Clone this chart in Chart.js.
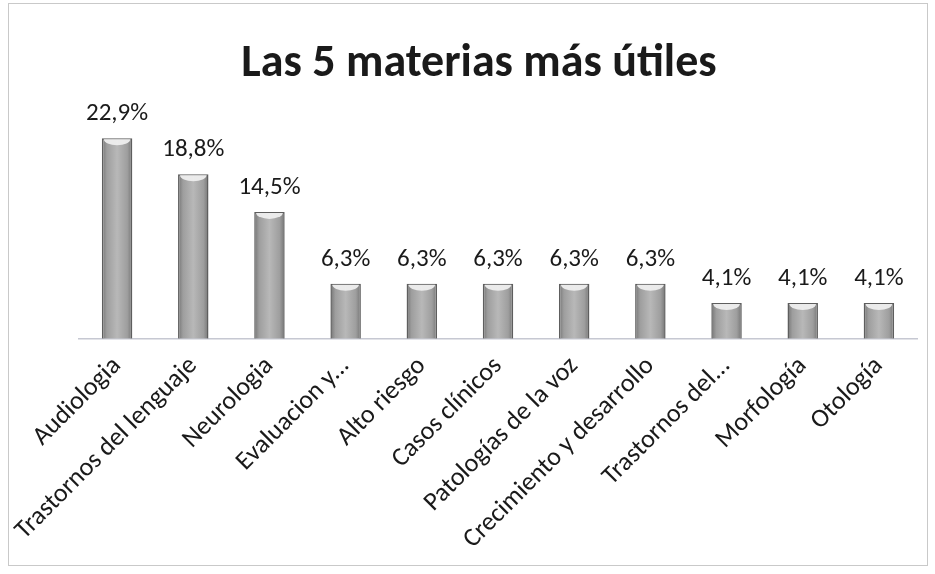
<!DOCTYPE html>
<html>
<head>
<meta charset="utf-8">
<script src="https://cdn.jsdelivr.net/npm/chart.js@4"></script>
<style>
  html, body { margin: 0; padding: 0; background: #fff; }
  #wrap { position: relative; width: 935px; height: 574px; }
  #frame {
    position: absolute; left: 8px; top: 3px; width: 920px; height: 563px;
    border: 1px solid #c9c9c9; box-sizing: border-box;
  }
  canvas { position: absolute; left: 0; top: 0; }
</style>
</head>
<body>
<div id="wrap">
  <div id="frame"></div>
  <canvas id="chart" width="935" height="574"></canvas>
</div>
<script>
// datos
const categories = [
  "Audiologia", "Trastornos del lenguaje", "Neurologia", "Evaluacion y...",
  "Alto riesgo", "Casos clínicos", "Patologías de la voz",
  "Crecimiento y desarrollo", "Trastornos del...", "Morfología", "Otología"
];
const percentages = [22.9, 18.8, 14.5, 6.3, 6.3, 6.3, 6.3, 6.3, 4.1, 4.1, 4.1];
const chartTitle = "Las 5 materias más útiles";
const FONT = "Carlito, Lato, 'Open Sans', sans-serif";

const fmtPct = v => v.toFixed(1).replace(".", ",") + "%";

// gradiente horizontal tipo cilindro
function barGradient(ctx) {
  const chart = ctx.chart;
  const x = chart.scales.x;
  if (!x || x.width === undefined || ctx.dataIndex === undefined) return "#9a9a9a";
  const cx = x.getPixelForValue(ctx.dataIndex);
  const half = 16;
  const g = chart.ctx.createLinearGradient(cx - half, 0, cx + half, 0);
  g.addColorStop(0, "#6e6e6e");
  g.addColorStop(0.18, "#9e9e9e");
  g.addColorStop(0.5, "#b8b8b8");
  g.addColorStop(0.82, "#9e9e9e");
  g.addColorStop(1, "#6e6e6e");
  return g;
}

/* === tapa clara arriba de cada barra + etiquetas */
const topCapPlugin = {
  id: "topCap",
  afterDatasetsDraw(chart) {
    const ctx = chart.ctx;
    const meta = chart.getDatasetMeta(0);
    const values = chart.data.datasets[0].data;
    ctx.save();
    meta.data.forEach((bar, i) => {
      const w = bar.width;
      ctx.beginPath();
      ctx.ellipse(bar.x, bar.y + 1, w / 2 - 2, 6, 0, 0, Math.PI);
      ctx.fillStyle = "rgba(238,238,238,0.95)";
      ctx.fill();
      ctx.fillStyle = "#1a1a1a";
      ctx.font = "25px " + FONT;
      ctx.textAlign = "center";
      ctx.textBaseline = "alphabetic";
      ctx.fillText(fmtPct(values[i]), bar.x, bar.y - 18);
    });
    ctx.restore();
  }
};

new Chart(document.getElementById("chart"), {
  type: "bar",
  data: {
    labels: categories,
    datasets: [{
      data: percentages,
      backgroundColor: barGradient,
      borderColor: "#5e5e5e",
      borderWidth: 1.5,
      barPercentage: 0.8,
      categoryPercentage: 0.5
    }]
  },
  options: {
    responsive: false,
    animation: false,
    layout: { padding: { left: 41, right: 18, top: 0, bottom: 7 } },
    plugins: {
      legend: { display: false },
      tooltip: { enabled: false },
      title: {
        display: true,
        text: chartTitle,
        color: "#1a1a1a",
        font: { family: FONT, size: 46, weight: "bold" },
        padding: { top: 37, bottom: 19 }
      }
    },
    scales: {
      // eje y invisible, solo reserva espacio a la izquierda
      y: {
        min: 0, max: 26,
        grid: { display: false, drawTicks: false },
        border: { display: false },
        ticks: { display: false },
        afterFit(scale) { scale.width = 38; }
      },
      x: {
        grid: { display: false, drawTicks: false },
        border: { display: true, color: "#c6c8d2", width: 1.5 },
        ticks: {
          color: "#1a1a1a",
          font: { family: FONT, size: 26 },
          minRotation: 45,
          maxRotation: 45,
          autoSkip: false,
          padding: 12
        }
      }
    }
  },
  plugins: [topCapPlugin]
});
</script>
</body>
</html>
